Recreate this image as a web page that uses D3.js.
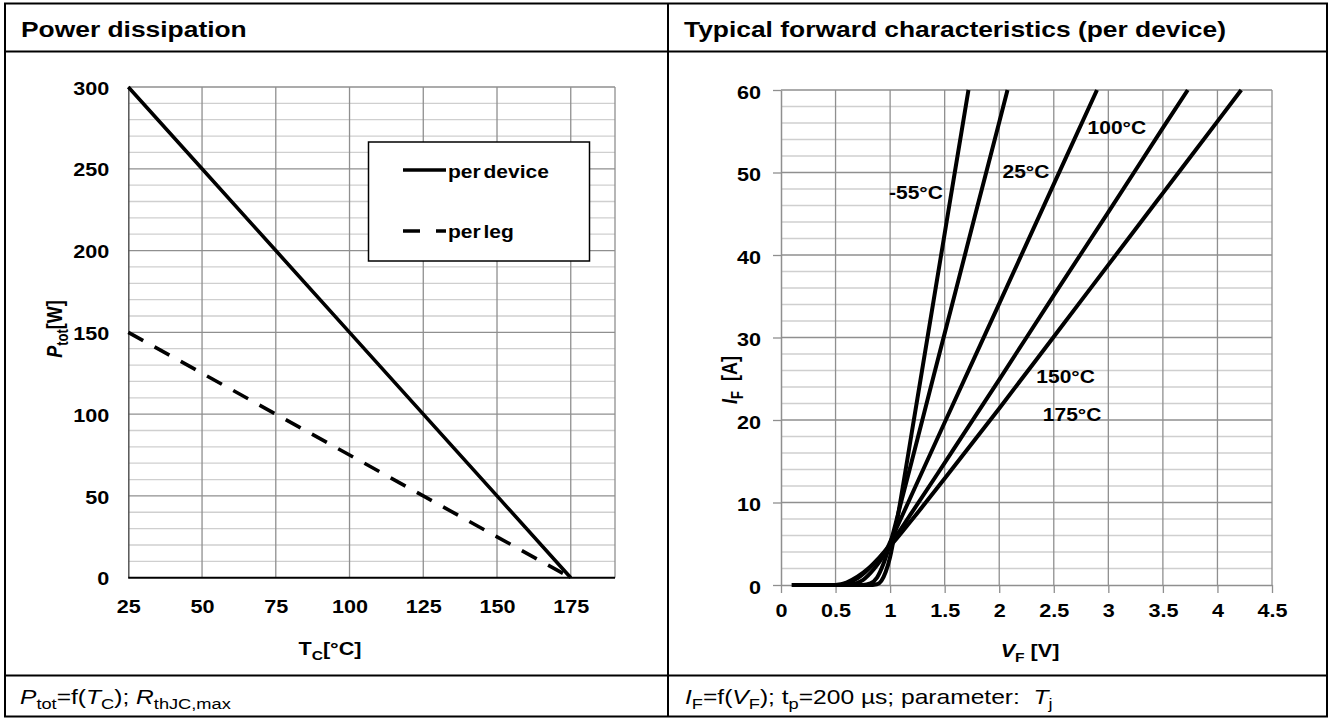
<!DOCTYPE html>
<html><head><meta charset="utf-8">
<script src="https://cdn.jsdelivr.net/npm/d3@7"></script>
<style>
body{margin:0;background:#fff}
svg{display:block}
text{font-family:"Liberation Sans",Arial,Helvetica,sans-serif;fill:#000}
</style>
</head><body>
<svg id="c" width="1332" height="720"></svg>
<script>
// ---------- DATA: Power dissipation ----------
const tcValues   = [25, 50, 75, 100, 125, 150, 175];
const perDevice  = [300, 250, 200, 150, 100, 50, 0];
const perLeg     = [150, 125, 100, 75, 50, 25, 0];
const leftXTicks = [25, 50, 75, 100, 125, 150, 175];
const leftYTicks = [0, 50, 100, 150, 200, 250, 300];
const legendNames = ["per device", "per leg"];

// ---------- DATA: Forward characteristics [V_F, I_F] ----------
const curveM55 = [[0.1,0],[0.5,0],[0.8,0],[0.88,0.1],[0.92,0.5],[0.96,1.6],[1.0,3.4],[1.05,6.8],[1.1,10.6],[1.2,18.6],[1.3,26.6],[1.4,34.6],[1.5,42.6],[1.6,50.6],[1.718,60]];
const curve25  = [[0.1,0],[0.5,0],[0.75,0],[0.82,0.2],[0.88,0.9],[0.94,2.6],[1.0,5.0],[1.1,10.0],[1.2,15.1],[1.4,25.4],[1.6,35.6],[1.8,45.9],[2.0,56.1],[2.076,60]];
const curve100 = [[0.1,0],[0.5,0],[0.65,0.1],[0.75,0.6],[0.85,1.9],[0.95,3.8],[1.0,5.2],[1.2,11.0],[1.5,19.7],[2.0,34.1],[2.5,48.6],[2.896,60]];
const curve150 = [[0.1,0],[0.5,0],[0.6,0.2],[0.7,0.8],[0.8,1.9],[0.9,3.3],[1.0,4.9],[1.2,8.8],[1.5,14.8],[2.0,24.9],[2.5,35.1],[3.0,45.2],[3.5,55.4],[3.728,60]];
const curve175 = [[0.1,0],[0.5,0],[0.6,0.3],[0.7,1.0],[0.8,2.0],[0.9,3.3],[1.0,4.7],[1.2,7.9],[1.5,12.9],[2.0,21.4],[2.5,30.1],[3.0,38.8],[3.5,47.5],[4.0,56.2],[4.218,60]];
const curveNames = ["-55°C", "25°C", "100°C", "150°C", "175°C"];
const rightXTicks = [0, 0.5, 1, 1.5, 2, 2.5, 3, 3.5, 4, 4.5];
const rightYTicks = [0, 10, 20, 30, 40, 50, 60];
// label anchors in data units (V, A)
const curveLabelAt = [[0.99,47.5],[2.03,50.1],[2.81,55.4],[2.34,25.2],[2.40,20.6]];

const SX = 1.2; // horizontal glyph stretch of the original artwork
const svg = d3.select("#c");

// ---------- frame ----------
const frame = svg.append("g").attr("fill","none").attr("stroke","#000").attr("stroke-width",2);
frame.append("rect").attr("x",5).attr("y",3.5).attr("width",1322).attr("height",713);
frame.append("line").attr("x1",668).attr("x2",668).attr("y1",3.5).attr("y2",716.5);
frame.append("line").attr("x1",5).attr("x2",1327).attr("y1",51.5).attr("y2",51.5);
frame.append("line").attr("x1",5).attr("x2",1327).attr("y1",675.5).attr("y2",675.5);

function richText(g, x, y, size, parts, opts){
  opts = opts || {};
  const rot = opts.rotate ? " rotate(-90) scale(1," + SX + ")" : " scale(" + SX + ",1)";
  const t = g.append("text").attr("transform", `translate(${x},${y})` + rot).attr("font-size",size);
  if (opts.bold) t.attr("font-weight","bold");
  if (opts.anchor) t.attr("text-anchor",opts.anchor);
  if (opts.dy) t.attr("dy",opts.dy);
  t.attr("xml:space","preserve");
  let shift = 0;
  parts.forEach(p=>{
    const ts = t.append("tspan").text(p.t);
    const target = p.sub ? Math.round(size*0.25) : 0;
    if (target - shift) ts.attr("dy", target - shift);
    shift = target;
    if (p.sub) ts.attr("font-size", (size*(opts.subRatio||0.72)).toFixed(1));
    if (p.i) ts.attr("font-style","italic");
  });
  return t;
}

richText(svg, 21, 37, 22, [{t:"Power dissipation"}], {bold:1});
richText(svg, 684, 37, 22, [{t:"Typical forward characteristics (per device)"}], {bold:1});

// footers
richText(svg, 20, 704, 20.5, [{t:"P",i:1},{t:"tot",sub:1},{t:"=f("},{t:"T",i:1},{t:"C",sub:1},{t:"); "},{t:"R",i:1},{t:"thJC,max",sub:1}], {subRatio:0.74});
richText(svg, 685, 704, 20.5, [{t:"I",i:1},{t:"F",sub:1},{t:"=f("},{t:"V",i:1},{t:"F",sub:1},{t:"); t"},{t:"p",sub:1},{t:"=200 µs; parameter:  "},{t:"T",i:1},{t:"j",sub:1}], {subRatio:0.74});

function styleTicks(a){
  a.selectAll("text").attr("font-size",18).attr("font-weight","bold").attr("fill","#000")
   .style("font-family","'Liberation Sans',Arial,sans-serif")
   .attr("transform",`scale(${SX},1)`);
}

// ---------- LEFT CHART ----------
const xL = d3.scaleLinear().domain([25,190]).range([128.3,615]);
const yL = d3.scaleLinear().domain([0,300]).range([577.7,87]);
const gL = svg.append("g");
gL.append("g").selectAll("line").data(d3.range(10,300,10).filter(v=>v%50!==0)).join("line")
  .attr("x1",xL(25)).attr("x2",xL(190)).attr("y1",d=>yL(d)).attr("y2",d=>yL(d))
  .attr("stroke","#cfcfcf").attr("stroke-width",1.3);
gL.append("g").selectAll("line").data(leftYTicks.filter(v=>v>0)).join("line")
  .attr("x1",xL(25)).attr("x2",xL(190)).attr("y1",d=>yL(d)).attr("y2",d=>yL(d))
  .attr("stroke","#8f8f8f").attr("stroke-width",1.3);
gL.append("g").selectAll("line").data(leftXTicks.slice(1).concat([190])).join("line")
  .attr("x1",d=>xL(d)).attr("x2",d=>xL(d)).attr("y1",yL(0)).attr("y2",yL(300))
  .attr("stroke","#8f8f8f").attr("stroke-width",1.3);
const axL = gL.append("g").attr("transform",`translate(${xL(25)},0)`)
  .call(d3.axisLeft(yL).tickValues(leftYTicks).tickSize(0).tickPadding(15.8));
axL.select(".domain").attr("stroke","#555").attr("stroke-width",1.5);
const axB = gL.append("g").attr("transform",`translate(0,${yL(0)})`)
  .call(d3.axisBottom(xL).tickValues(leftXTicks).tickSize(0).tickPadding(23));
axB.select(".domain").attr("stroke","#000").attr("stroke-width",2).attr("d",`M${xL(25)},0H${xL(190)}`);
styleTicks(axL); styleTicks(axB);
axL.selectAll("text").attr("dy","0.4em");
axB.selectAll("text").attr("dy","0.71em");

const lineL = d3.line().x(d=>xL(d[0])).y(d=>yL(d[1]));
gL.append("path").datum(tcValues.map((t,i)=>[t,perDevice[i]])).attr("d",lineL)
  .attr("fill","none").attr("stroke","#000").attr("stroke-width",3.6);
gL.append("path").datum(tcValues.map((t,i)=>[t,perLeg[i]])).attr("d",lineL)
  .attr("fill","none").attr("stroke","#000").attr("stroke-width",3.6)
  .attr("stroke-dasharray","17,13");

// legend
const lg = gL.append("g");
lg.append("rect").attr("x",368.5).attr("y",142).attr("width",221).attr("height",119)
  .attr("fill","#fff").attr("stroke","#000").attr("stroke-width",1.5);
lg.append("line").attr("x1",403).attr("x2",446).attr("y1",170).attr("y2",170).attr("stroke","#000").attr("stroke-width",3.6);
lg.append("line").attr("x1",403).attr("x2",446).attr("y1",231).attr("y2",231).attr("stroke","#000").attr("stroke-width",3.6).attr("stroke-dasharray","17,16");
legendNames.forEach((n,i)=>{
  richText(lg, 448, i?232:172, 17.5, [{t:n}], {bold:1, dy:"0.35em"}).attr("word-spacing",-2.5);
});

// axis titles
richText(gL, 62, 329, 18, [{t:"P",i:1},{t:"tot",sub:1},{t:"[W]"}], {bold:1, anchor:"middle", rotate:1});
richText(gL, 330, 655, 18, [{t:"T"},{t:"C",sub:1},{t:"[°C]"}], {bold:1, anchor:"middle"});

// ---------- RIGHT CHART ----------
const xR = d3.scaleLinear().domain([0,4.5]).range([781,1272]);
const yR = d3.scaleLinear().domain([0,60]).range([585,90]);
const gR = svg.append("g");
gR.append("g").selectAll("line").data(d3.range(2,60,2).filter(v=>v%10!==0)).join("line")
  .attr("x1",xR(0)).attr("x2",xR(4.5)).attr("y1",d=>yR(d)).attr("y2",d=>yR(d))
  .attr("stroke","#cfcfcf").attr("stroke-width",1.3);
gR.append("g").selectAll("line").data(rightYTicks.filter(v=>v>0)).join("line")
  .attr("x1",xR(0)).attr("x2",xR(4.5)).attr("y1",d=>yR(d)).attr("y2",d=>yR(d))
  .attr("stroke","#8f8f8f").attr("stroke-width",1.3);
gR.append("g").selectAll("line").data(rightXTicks.filter(v=>v>0)).join("line")
  .attr("x1",d=>xR(d)).attr("x2",d=>xR(d)).attr("y1",yR(0)).attr("y2",yR(60))
  .attr("stroke","#8f8f8f").attr("stroke-width",1.3);
const axRL = gR.append("g").attr("transform",`translate(${xR(0)},0)`)
  .call(d3.axisLeft(yR).tickValues(rightYTicks).tickSizeInner(8).tickSizeOuter(0).tickPadding(8.7));
const axRB = gR.append("g").attr("transform",`translate(0,${yR(0)})`)
  .call(d3.axisBottom(xR).tickValues(rightXTicks).tickFormat(d3.format("~g")).tickSizeInner(8).tickSizeOuter(0).tickPadding(11.5));
[axRL,axRB].forEach(a=>{
  a.select(".domain").attr("stroke","#8f8f8f").attr("stroke-width",1.5);
  a.selectAll(".tick line").attr("stroke","#8f8f8f").attr("stroke-width",1.3);
  styleTicks(a);
});
axRL.selectAll("text").attr("dy","0.45em");

const lineR = d3.line().x(d=>xR(d[0])).y(d=>yR(d[1])).curve(d3.curveMonotoneX);
[curveM55, curve25, curve100, curve150, curve175].forEach(c=>{
  gR.append("path").datum(c).attr("d",lineR).attr("fill","none")
    .attr("stroke","#000").attr("stroke-width",4).attr("stroke-linejoin","round");
});
curveNames.forEach((n,i)=>{
  richText(gR, xR(curveLabelAt[i][0]), yR(curveLabelAt[i][1]), 17.5, [{t:n}], {bold:1, dy:"0.35em"});
});

richText(gR, 737, 380, 18, [{t:"I",i:1},{t:"F",sub:1},{t:"  [A]"}], {bold:1, anchor:"middle", rotate:1});
richText(gR, 1030, 657, 18, [{t:"V",i:1},{t:"F",sub:1},{t:" [V]"}], {bold:1, anchor:"middle"});
</script>
</body></html>
